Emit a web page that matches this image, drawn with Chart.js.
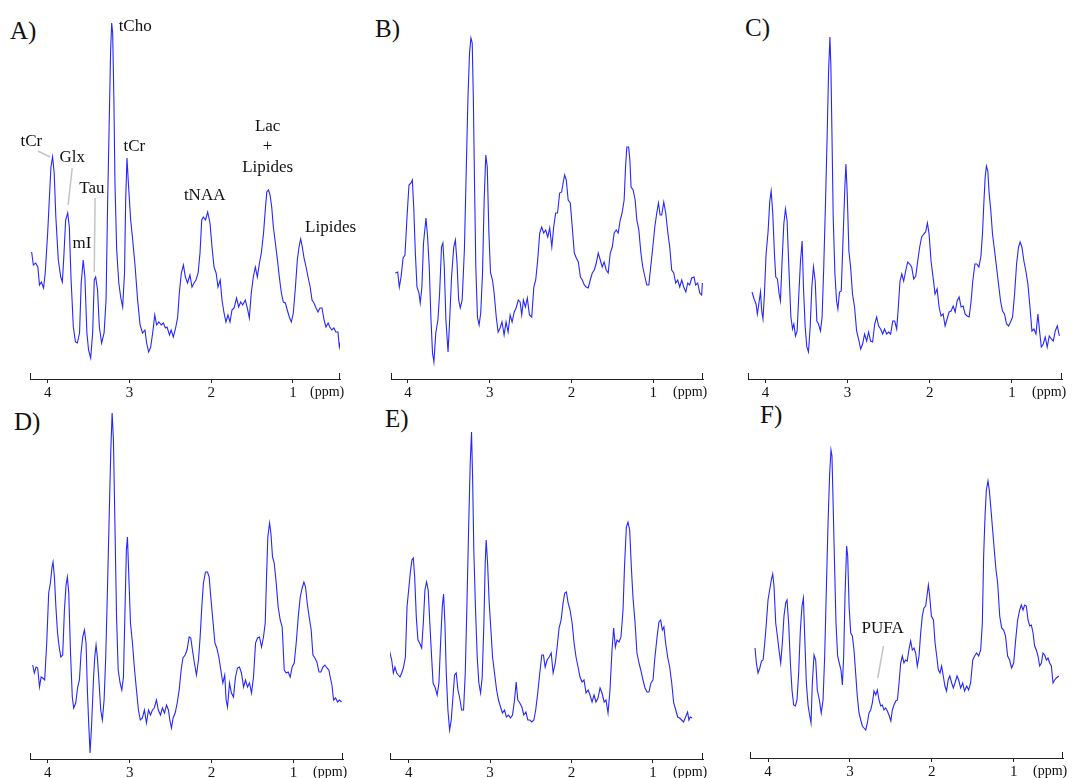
<!DOCTYPE html>
<html>
<head>
<meta charset="utf-8">
<script src="https://cdn.jsdelivr.net/npm/chart.js@4.4.1/dist/chart.umd.min.js"></script>
<style>
  html, body { margin: 0; padding: 0; background: #fff; overflow: hidden; }
  body { width: 1072px; height: 778px; position: relative; font-family: "Liberation Serif", serif; }
  canvas { position: absolute; }
  .tag { position: absolute; font-size: 25px; line-height: 1; color: #111; }
</style>
</head>
<body>
<div class="tag" style="left:10px;top:18px">A)</div>
<div class="tag" style="left:375px;top:16px">B)</div>
<div class="tag" style="left:745px;top:15px">C)</div>
<div class="tag" style="left:14px;top:409px">D)</div>
<div class="tag" style="left:385px;top:406px">E)</div>
<div class="tag" style="left:760px;top:402px">F)</div>

<script>
// spectra: [ppm, intensity] (intensity in arbitrary units)
const spectrumA = [[4.196,127],[4.175,114],[4.147,116],[4.12,112],[4.10,94],[4.077,97],[4.05,91],[4.03,106],[4.00,146],[3.98,179],[3.96,212],[3.94,222],[3.92,206],[3.90,162],[3.87,119],[3.84,102],[3.82,97],[3.80,126],[3.78,159],[3.755,166],[3.735,152],[3.715,102],[3.686,52],[3.66,37],[3.637,36],[3.61,46],[3.59,96],[3.565,119],[3.545,102],[3.52,46],[3.50,29],[3.474,21],[3.45,46],[3.43,99],[3.413,102],[3.39,89],[3.368,52],[3.34,36],[3.31,46],[3.286,79],[3.266,179],[3.246,262],[3.23,329],[3.217,356],[3.205,346],[3.19,279],[3.177,196],[3.156,129],[3.13,96],[3.107,82],[3.083,72],[3.06,106],[3.046,179],[3.03,221],[3.01,192],[2.985,159],[2.96,139],[2.93,112],[2.90,79],[2.87,54],[2.84,46],[2.81,49],[2.79,36],[2.765,27],[2.74,32],[2.716,46],[2.69,64],[2.667,54],[2.64,57],[2.61,54],[2.585,56],[2.56,51],[2.54,52],[2.51,44],[2.49,49],[2.463,42],[2.435,51],[2.41,62],[2.39,86],[2.365,106],[2.34,114],[2.316,102],[2.29,96],[2.26,104],[2.235,92],[2.21,96],[2.186,99],[2.16,106],[2.137,126],[2.116,159],[2.096,162],[2.07,159],[2.043,167],[2.015,156],[1.99,132],[1.966,112],[1.94,106],[1.917,92],[1.89,99],[1.868,79],[1.845,67],[1.82,57],[1.795,64],[1.77,57],[1.746,69],[1.72,71],[1.69,81],[1.664,72],[1.64,77],[1.615,74],[1.583,79],[1.558,71],[1.534,61],[1.51,86],[1.485,102],[1.46,112],[1.436,102],[1.41,116],[1.387,126],[1.36,146],[1.336,172],[1.32,187],[1.30,189],[1.28,184],[1.26,172],[1.24,152],[1.215,136],[1.19,119],[1.167,102],[1.142,86],[1.118,77],[1.093,76],[1.07,69],[1.045,62],[1.02,57],[0.996,66],[0.97,92],[0.947,119],[0.926,132],[0.906,140],[0.886,132],[0.865,121],[0.84,112],[0.816,102],[0.79,92],[0.767,79],[0.743,76],[0.718,71],[0.694,67],[0.67,71],[0.645,71],[0.62,59],[0.597,52],[0.57,56],[0.55,52],[0.525,49],[0.50,51],[0.476,47],[0.45,47],[0.433,32],[0.42,37]];

const spectrumB = [[4.155,106],[4.126,107],[4.106,92],[4.085,102],[4.06,121],[4.037,124],[4.012,162],[3.988,194],[3.963,196],[3.947,199],[3.93,172],[3.91,126],[3.89,92],[3.866,86],[3.85,76],[3.83,92],[3.81,136],[3.78,161],[3.76,142],[3.74,112],[3.72,62],[3.70,26],[3.683,17],[3.66,46],[3.634,59],[3.613,86],[3.59,132],[3.573,136],[3.556,112],[3.536,59],[3.51,27],[3.49,59],[3.467,102],[3.44,132],[3.42,139],[3.40,116],[3.38,79],[3.36,71],[3.337,79],[3.31,129],[3.288,206],[3.267,279],[3.247,326],[3.23,341],[3.214,336],[3.20,279],[3.186,196],[3.17,112],[3.15,62],[3.13,54],[3.11,66],[3.088,106],[3.068,179],[3.048,224],[3.03,212],[3.01,146],[2.99,106],[2.966,99],[2.946,86],[2.92,62],[2.897,47],[2.873,51],[2.85,57],[2.824,44],[2.80,57],[2.775,47],[2.75,64],[2.726,57],[2.70,67],[2.677,71],[2.65,79],[2.628,77],[2.608,64],[2.588,79],[2.563,72],[2.54,81],[2.514,64],[2.486,62],[2.46,92],[2.437,99],[2.413,119],[2.388,146],[2.364,152],[2.34,146],[2.315,149],[2.29,142],[2.266,151],[2.24,132],[2.217,152],[2.193,166],[2.17,166],[2.144,186],[2.12,187],[2.10,197],[2.083,204],[2.063,199],[2.04,179],[2.014,176],[1.99,152],[1.965,126],[1.94,121],[1.916,117],[1.89,102],[1.867,99],[1.843,94],[1.82,92],[1.794,91],[1.77,99],[1.745,106],[1.72,109],[1.696,116],[1.672,126],[1.647,119],[1.623,112],[1.60,117],[1.574,109],[1.55,106],[1.525,126],[1.50,132],[1.477,146],[1.452,149],[1.428,146],[1.403,159],[1.38,166],[1.355,179],[1.338,212],[1.322,232],[1.30,232],[1.285,219],[1.27,192],[1.245,189],[1.22,179],[1.20,159],[1.175,149],[1.15,126],[1.127,112],[1.10,102],[1.078,94],[1.053,94],[1.03,112],[1.004,132],[0.98,152],[0.956,166],[0.935,176],[0.915,164],[0.895,164],[0.87,177],[0.846,166],[0.82,146],[0.797,132],[0.773,109],[0.748,106],[0.724,96],[0.70,99],[0.675,92],[0.65,99],[0.626,92],[0.60,87],[0.577,96],[0.553,94],[0.528,101],[0.50,102],[0.48,94],[0.455,96],[0.43,86],[0.406,84],[0.398,96]];

const spectrumC = [[4.163,87],[4.138,80],[4.114,75],[4.098,65],[4.077,77],[4.06,87],[4.045,68],[4.03,60],[4.012,85],[3.992,125],[3.967,148],[3.947,178],[3.93,188],[3.91,165],[3.89,125],[3.874,102],[3.854,100],[3.833,85],[3.817,78],[3.797,118],[3.776,155],[3.756,170],[3.736,158],[3.715,112],[3.69,62],[3.67,50],[3.654,55],[3.634,43],[3.614,48],[3.593,85],[3.573,118],[3.553,138],[3.537,92],[3.516,52],[3.496,32],[3.476,27],[3.455,52],[3.435,92],[3.415,112],[3.394,98],[3.374,58],[3.354,55],[3.33,48],[3.31,62],[3.29,112],[3.268,178],[3.248,245],[3.232,305],[3.215,342],[3.203,312],[3.19,245],[3.175,162],[3.154,105],[3.134,78],[3.118,70],[3.098,87],[3.077,88],[3.053,145],[3.033,192],[3.02,215],[3.004,185],[2.984,128],[2.963,112],[2.94,85],[2.915,72],[2.89,48],[2.866,40],[2.841,30],[2.817,35],[2.793,45],[2.768,38],[2.744,47],[2.72,38],[2.695,37],[2.67,55],[2.646,62],[2.622,53],[2.598,50],[2.573,45],[2.55,50],[2.524,45],[2.50,47],[2.476,45],[2.45,58],[2.427,58],[2.402,50],[2.382,72],[2.362,98],[2.34,105],[2.317,98],[2.293,108],[2.268,117],[2.244,115],[2.22,112],[2.195,100],[2.17,103],[2.146,118],[2.122,132],[2.098,142],[2.073,145],[2.05,147],[2.028,156],[2.008,145],[1.984,118],[1.96,102],[1.935,85],[1.91,90],[1.886,72],[1.862,63],[1.837,65],[1.813,53],[1.789,60],[1.764,67],[1.74,68],[1.715,73],[1.69,67],[1.667,78],[1.642,82],[1.618,72],[1.593,73],[1.57,65],[1.545,63],[1.52,62],[1.496,78],[1.476,98],[1.45,115],[1.427,115],[1.402,112],[1.378,122],[1.358,145],[1.34,178],[1.325,202],[1.31,213],[1.293,208],[1.276,185],[1.256,168],[1.236,145],[1.21,128],[1.187,112],[1.163,95],[1.138,78],[1.114,68],[1.09,65],[1.065,55],[1.04,53],[1.016,57],[0.992,62],[0.967,85],[0.943,115],[0.919,132],[0.90,137],[0.878,132],[0.854,118],[0.83,108],[0.805,95],[0.78,72],[0.756,48],[0.732,50],[0.707,45],[0.683,65],[0.663,48],[0.642,32],[0.618,35],[0.594,42],[0.57,32],[0.545,43],[0.52,40],[0.496,38],[0.472,48],[0.447,53],[0.422,43]];

const spectrumD = [[4.183,94],[4.163,86],[4.142,92],[4.122,91],[4.10,72],[4.08,82],[4.06,81],[4.037,79],[4.012,116],[3.988,166],[3.967,176],[3.947,192],[3.935,197],[3.918,182],[3.90,152],[3.88,126],[3.86,112],[3.84,102],[3.817,104],[3.796,149],[3.776,174],[3.76,182],[3.743,166],[3.723,109],[3.70,62],[3.683,51],[3.658,56],[3.634,72],[3.613,79],[3.593,106],[3.573,122],[3.552,129],[3.532,116],[3.516,69],[3.50,36],[3.483,6],[3.463,36],[3.442,79],[3.426,102],[3.41,114],[3.394,102],[3.373,76],[3.353,49],[3.333,39],[3.312,59],[3.292,102],[3.271,169],[3.25,242],[3.23,309],[3.214,346],[3.198,319],[3.18,236],[3.16,142],[3.14,89],[3.117,76],[3.096,69],[3.076,82],[3.056,152],[3.04,209],[3.027,222],[3.01,182],[2.99,136],[2.966,116],[2.94,89],[2.917,69],[2.893,49],[2.87,39],[2.845,41],[2.82,49],[2.795,36],[2.77,49],[2.746,44],[2.722,49],[2.70,51],[2.673,59],[2.65,49],[2.624,44],[2.60,51],[2.575,46],[2.55,54],[2.527,49],[2.51,39],[2.49,31],[2.47,41],[2.445,46],[2.42,56],[2.396,69],[2.372,89],[2.35,101],[2.323,104],[2.30,109],[2.274,122],[2.254,121],[2.234,109],[2.21,96],[2.185,84],[2.16,99],[2.14,122],[2.12,152],[2.10,176],[2.075,187],[2.05,187],[2.03,182],[2.01,162],[1.985,139],[1.96,116],[1.937,111],[1.912,102],[1.888,89],[1.863,76],[1.84,84],[1.823,59],[1.806,52],[1.782,76],[1.758,66],[1.733,62],[1.709,82],[1.684,91],[1.66,92],[1.636,86],[1.61,72],[1.587,79],[1.562,72],[1.538,76],[1.513,66],[1.489,82],[1.464,116],[1.44,121],[1.416,122],[1.391,112],[1.367,122],[1.346,136],[1.33,182],[1.314,222],[1.293,236],[1.277,226],[1.257,202],[1.236,196],[1.212,176],[1.188,152],[1.163,139],[1.139,132],[1.114,89],[1.09,86],[1.066,87],[1.041,82],[1.017,92],[0.992,96],[0.968,116],[0.943,142],[0.919,162],[0.895,171],[0.874,177],[0.854,172],[0.834,156],[0.81,142],[0.785,129],[0.764,104],[0.74,101],[0.716,97],[0.69,87],[0.667,87],[0.642,92],[0.618,94],[0.593,91],[0.569,89],[0.553,82],[0.532,74],[0.512,59],[0.488,61],[0.463,57],[0.44,59],[0.415,57]];

const spectrumE = [[4.245,102],[4.229,106],[4.208,99],[4.188,86],[4.168,92],[4.147,86],[4.127,84],[4.106,82],[4.086,86],[4.065,91],[4.04,102],[4.02,152],[4.00,169],[3.98,186],[3.96,199],[3.943,201],[3.926,182],[3.906,142],[3.886,119],[3.865,116],[3.84,111],[3.82,136],[3.80,169],[3.78,177],[3.76,169],[3.74,136],[3.718,102],[3.70,76],[3.673,71],[3.65,64],[3.628,76],[3.608,116],[3.587,152],[3.571,165],[3.555,136],[3.538,86],[3.518,49],[3.497,29],[3.477,39],[3.456,62],[3.436,84],[3.416,86],[3.395,69],[3.375,62],[3.35,49],[3.326,49],[3.305,86],[3.285,152],[3.264,229],[3.244,296],[3.228,327],[3.215,282],[3.20,209],[3.18,152],[3.158,102],[3.138,76],[3.117,66],[3.097,82],[3.076,136],[3.06,196],[3.048,219],[3.031,196],[3.011,156],[2.99,129],[2.97,102],[2.946,86],[2.92,69],[2.897,59],[2.872,52],[2.848,46],[2.823,49],[2.80,42],[2.774,44],[2.75,41],[2.725,44],[2.70,59],[2.68,77],[2.66,59],[2.635,56],[2.61,52],[2.586,44],[2.56,47],[2.537,39],[2.512,39],[2.488,37],[2.463,39],[2.44,49],[2.414,67],[2.39,86],[2.365,104],[2.345,104],[2.324,92],[2.30,99],[2.275,102],[2.25,106],[2.226,86],[2.20,96],[2.177,112],[2.153,131],[2.128,139],[2.104,156],[2.083,166],[2.063,167],[2.042,156],[2.018,149],[1.993,136],[1.969,116],[1.945,102],[1.92,92],[1.896,82],[1.871,77],[1.847,79],[1.822,66],[1.797,69],[1.773,64],[1.748,57],[1.724,64],[1.70,57],[1.675,61],[1.65,71],[1.626,66],[1.60,57],[1.577,59],[1.552,46],[1.528,69],[1.503,109],[1.483,131],[1.462,112],[1.442,119],[1.417,117],[1.393,122],[1.368,149],[1.348,196],[1.327,232],[1.307,237],[1.286,229],[1.266,192],[1.246,162],[1.22,136],[1.197,106],[1.172,96],[1.15,89],[1.123,79],[1.098,71],[1.074,67],[1.05,67],[1.025,76],[1.00,79],[0.976,102],[0.95,122],[0.927,137],[0.906,139],[0.885,129],[0.866,132],[0.845,116],[0.82,102],[0.795,92],[0.77,76],[0.746,56],[0.72,49],[0.697,42],[0.673,41],[0.649,39],[0.624,37],[0.60,42],[0.575,47],[0.559,39],[0.543,42],[0.518,41]];

const spectrumF = [[4.159,110],[4.142,95],[4.122,85],[4.10,90],[4.08,97],[4.06,98],[4.04,115],[4.02,135],[4.00,158],[3.98,168],[3.96,178],[3.943,184],[3.927,172],[3.906,135],[3.886,122],[3.866,108],[3.845,95],[3.825,115],[3.805,142],[3.784,155],[3.768,158],[3.748,135],[3.727,95],[3.707,68],[3.687,53],[3.666,52],[3.646,58],[3.626,85],[3.605,128],[3.585,152],[3.568,160],[3.552,122],[3.532,75],[3.51,52],[3.49,42],[3.475,35],[3.459,75],[3.438,103],[3.418,98],[3.398,68],[3.373,58],[3.35,45],[3.328,58],[3.308,102],[3.288,168],[3.267,235],[3.247,285],[3.231,308],[3.219,302],[3.206,258],[3.19,202],[3.17,135],[3.15,102],[3.13,95],[3.109,88],[3.092,73],[3.076,102],[3.06,162],[3.04,212],[3.027,202],[3.01,152],[2.99,125],[2.97,122],[2.95,108],[2.93,85],[2.91,62],[2.889,45],[2.868,38],[2.848,32],[2.828,30],[2.807,28],[2.787,35],[2.767,45],[2.746,48],[2.726,55],[2.706,67],[2.685,63],[2.665,68],[2.645,58],[2.624,52],[2.604,53],[2.584,48],[2.563,50],[2.543,47],[2.523,43],[2.50,37],[2.482,48],[2.462,53],[2.44,57],[2.42,58],[2.40,75],[2.38,95],[2.36,102],[2.34,95],[2.32,98],[2.30,97],[2.28,108],[2.258,117],[2.238,108],[2.217,110],[2.197,105],[2.177,92],[2.156,102],[2.136,125],[2.116,142],[2.096,150],[2.075,152],[2.059,162],[2.042,173],[2.026,162],[2.005,142],[1.98,138],[1.96,115],[1.94,102],[1.92,88],[1.90,85],[1.88,92],[1.86,82],[1.84,72],[1.82,67],[1.80,78],[1.78,82],[1.757,75],[1.737,70],[1.717,75],[1.692,82],[1.672,78],[1.648,70],[1.623,75],[1.60,67],[1.574,72],[1.55,68],[1.526,75],[1.50,98],[1.477,102],[1.452,105],[1.428,102],[1.403,108],[1.383,135],[1.367,202],[1.35,242],[1.334,268],[1.314,277],[1.298,268],[1.277,248],[1.257,228],[1.237,208],[1.216,188],[1.196,175],[1.171,142],[1.147,130],[1.123,128],[1.10,122],[1.074,102],[1.05,98],[1.026,90],[1.00,95],[0.976,118],[0.952,138],[0.927,148],[0.907,153],[0.886,148],[0.866,153],[0.846,152],[0.825,138],[0.805,132],[0.784,133],[0.764,125],[0.744,112],[0.724,108],[0.703,102],[0.683,92],[0.662,95],[0.642,105],[0.622,103],[0.60,98],[0.581,100],[0.561,95],[0.54,92],[0.52,75],[0.50,78],[0.479,80],[0.45,82]];

const ppmTicks = [4, 3, 2, 1];

// peak labels, placed in data units (ppm, intensity)
const labelsA = [
  { text: "tCho", ppm: 2.93, h: 352 },
  { text: "tCr", ppm: 4.20, h: 237 },
  { text: "Glx", ppm: 3.70, h: 221 },
  { text: "Tau", ppm: 3.46, h: 190 },
  { text: "mI", ppm: 3.58, h: 135 },
  { text: "tCr", ppm: 2.94, h: 232 },
  { text: "tNAA", ppm: 2.08, h: 183 },
  { text: "Lac", ppm: 1.31, h: 252 },
  { text: "+", ppm: 1.31, h: 232 },
  { text: "Lipides", ppm: 1.31, h: 211 },
  { text: "Lipides", ppm: 0.54, h: 151 }
];
const leadersA = [
  [4.12, 228, 3.97, 222],
  [3.70, 211, 3.75, 174],
  [3.42, 181, 3.43, 107]
];
const labelsF = [{ text: "PUFA", ppm: 2.60, h: 129 }];
const leadersF = [[2.59, 112, 2.66, 80]];

const TOP = 360;     // intensity shown at the top of each plot area
const PAD = 30;

const decor = {
  id: "decor",
  afterDatasetsDraw(chart, args, opts) {
    const { ctx, chartArea: a, scales } = chart;
    const x = scales.x, y = scales.y;
    ctx.save();
    // end caps of the ppm axis
    ctx.strokeStyle = "#222";
    ctx.lineWidth = 1;
    ctx.beginPath();
    ctx.moveTo(a.left + 0.5, a.bottom);
    ctx.lineTo(a.left + 0.5, a.bottom - 6);
    ctx.moveTo(a.right - 0.5, a.bottom);
    ctx.lineTo(a.right - 0.5, a.bottom - 6);
    ctx.stroke();

    ctx.fillStyle = "#111";
    ctx.font = '14px "Liberation Serif"';
    ctx.textBaseline = "middle";
    ctx.textAlign = "left";
    ctx.fillText("(ppm)", a.right - 30, a.bottom + 13);

    ctx.strokeStyle = "#c4c4c4";
    ctx.lineWidth = 1.5;
    (opts.leaders || []).forEach(l => {
      ctx.beginPath();
      ctx.moveTo(x.getPixelForValue(l[0]), y.getPixelForValue(l[1]));
      ctx.lineTo(x.getPixelForValue(l[2]), y.getPixelForValue(l[3]));
      ctx.stroke();
    });

    ctx.font = '17px "Liberation Serif"';
    ctx.textAlign = "center";
    (opts.labels || []).forEach(n => {
      ctx.fillText(n.text, x.getPixelForValue(n.ppm), y.getPixelForValue(n.h));
    });
    ctx.restore();
  }
};

const panels = [
  { data: spectrumA, left: 30, right: 340, axisY: 379, lo: 0.425, hi: 4.216, labels: labelsA, leaders: leadersA },
  { data: spectrumB, left: 391, right: 703, axisY: 379, lo: 0.39, hi: 4.208 },
  { data: spectrumC, left: 748, right: 1062, axisY: 379, lo: 0.39, hi: 4.212 },
  { data: spectrumD, left: 30, right: 343, axisY: 759, lo: 0.397, hi: 4.216 },
  { data: spectrumE, left: 390, right: 703, axisY: 759, lo: 0.386, hi: 4.229 },
  { data: spectrumF, left: 750, right: 1063, axisY: 758, lo: 0.398, hi: 4.22, labels: labelsF, leaders: leadersF }
];

panels.forEach(p => {
  const canvas = document.createElement("canvas");
  const w = p.right - p.left + 2 * PAD;
  const h = 10 + TOP + 30;
  canvas.width = w;
  canvas.height = h;
  canvas.style.left = (p.left - PAD) + "px";
  canvas.style.top = (p.axisY - TOP - 10) + "px";
  document.body.appendChild(canvas);

  new Chart(canvas.getContext("2d"), {
    type: "line",
    data: {
      datasets: [{
        data: p.data.map(d => ({ x: d[0], y: d[1] })),
        borderColor: "#2626ff",
        borderWidth: 1.1,
        pointRadius: 0,
        tension: 0,
        fill: false
      }]
    },
    options: {
      responsive: false,
      animation: false,
      layout: { padding: { left: PAD, right: PAD, top: 10, bottom: 0 } },
      plugins: {
        legend: { display: false },
        tooltip: { enabled: false },
        decor: { labels: p.labels, leaders: p.leaders }
      },
      scales: {
        x: {
          type: "linear",
          reverse: true,
          min: p.lo,
          max: p.hi,
          afterBuildTicks: s => { s.ticks = ppmTicks.map(v => ({ value: v })); },
          afterFit: s => { s.height = 30; },
          grid: { display: true, drawOnChartArea: false, drawTicks: true, tickLength: 4, color: "#222" },
          border: { display: true, color: "#222", width: 1 },
          ticks: { color: "#111", padding: 1, maxRotation: 0, font: { family: "Liberation Serif", size: 15 } }
        },
        y: { display: false, min: 0, max: TOP }
      }
    },
    plugins: [decor]
  });
});
</script>
</body>
</html>
